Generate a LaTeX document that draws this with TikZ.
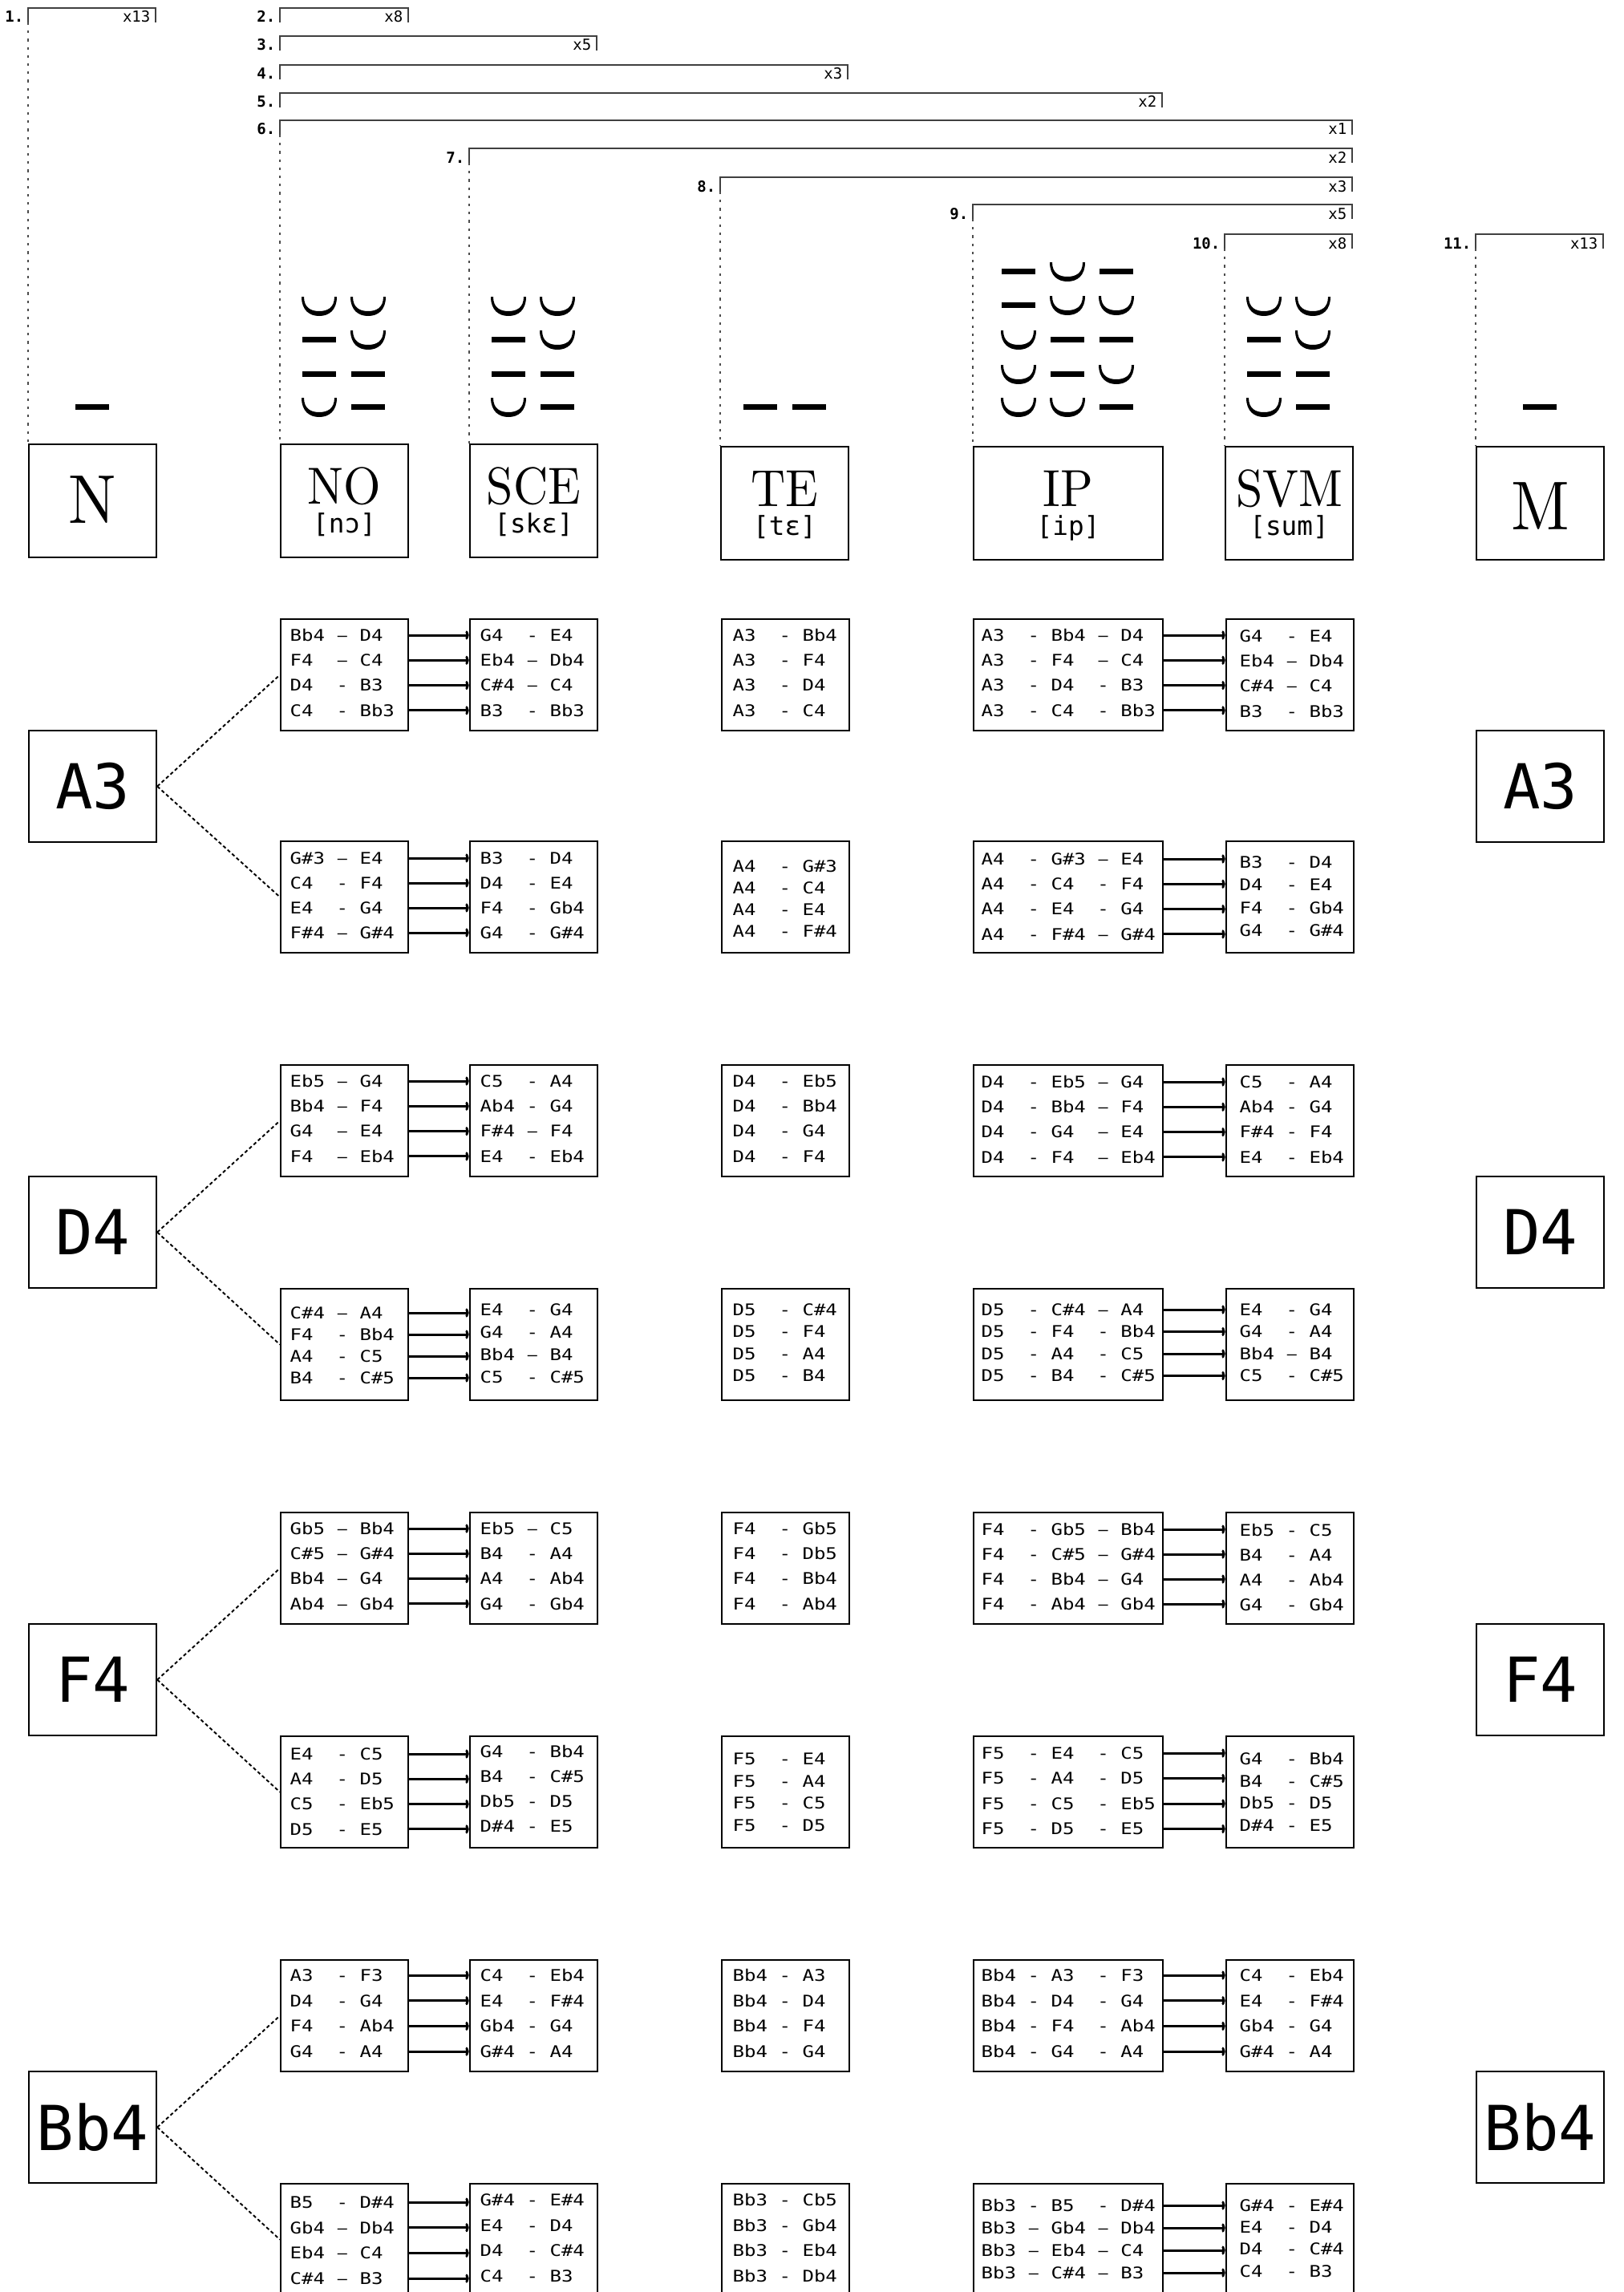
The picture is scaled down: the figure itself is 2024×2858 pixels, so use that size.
\documentclass[tikz,border=0pt]{standalone}
\usepackage{fontspec}
\usetikzlibrary{arrows.meta, calc}
\newfontfamily\notefont[FakeStretch=1.2]{DejaVu Sans Mono}
\newfontfamily\tagfont{DejaVu Sans Mono}
\newfontfamily\headfont[FakeStretch=0.92]{lmroman10-regular.otf}

% en dash kept on the grid of the note columns
\newcommand{\nd}{\makebox[\fontcharwd\font`\0][c]{\tagfont\fontsize{5.7pt}{6pt}\selectfont –}}
% bracket over the columns: name, x left, x right, y, number, count
\newcommand{\bracket}[6]{%
  \coordinate (#1) at (#2,#4+18);
  \draw[brk] (#1) |- (#3,#4) -- (#3,#4+18);
  \node[tag] (#1-n) at (#2-5,#4+18) {#5.};
  \node[cnt] (#1-x) at (#3-6,#4+18) {x#6};
}
% table of notes: style, name, corner, x inset, first row, row step, rows
\newcommand{\notetab}[7]{%
  \node[tblbox, #1] (#2) at #3 {};
  \foreach \nts [count=\k] in {#7}
    \node[notes] (#2-\k) at ($(#2.north west)+(#4,{#5+(\k-1)*#6})$) {\nts};
}
\newcommand{\links}[2]{%
  \foreach \k in {1,...,4}
    \draw[flow] (#1-\k -| #1.east) -- (#1-\k -| #2.west);
}
% one row of metrical marks
\newcommand{\feet}[3]{%
  \foreach \m [count=\k] in {#3}
    \pic at ({#1+61*(\k-1)},#2) {\m};
}

\begin{document}
\begin{tikzpicture}[
    x=0.1mm, y=-0.1mm,
    hdr/.style={draw, line width=0.6pt, minimum width=15.9mm, minimum height=14.1mm, anchor=north west, inner sep=0pt},
    wide/.style={minimum width=23.6mm},
    tblbox/.style={draw, line width=0.6pt, minimum width=15.9mm, minimum height=13.9mm, anchor=north west, inner sep=0pt},
    pitch/.style={draw, line width=0.6pt, minimum width=15.9mm, minimum height=13.9mm, anchor=north west, inner sep=0pt,
        font=\tagfont\fontsize{22pt}{24pt}\selectfont},
    notes/.style={anchor=west, inner sep=0pt, text height=4.16pt, text depth=0pt, font=\notefont\fontsize{5.7pt}{6pt}\selectfont},
    flow/.style={-{To[length=1.3pt, width=3.2pt]}, line width=0.85pt},
    brk/.style={line width=0.65pt, black!75},
    guide/.style={line width=0.45pt, black!70, dash pattern=on 0.9pt off 2pt},
    branch/.style={line width=0.55pt, dash pattern=on 1.2pt off 0.9pt},
    tag/.style={anchor=base east, inner sep=0pt, font=\tagfont\bfseries\fontsize{5.4pt}{6pt}\selectfont},
    cnt/.style={anchor=base east, inner sep=0pt, font=\tagfont\fontsize{5.4pt}{6pt}\selectfont},
    hname/.style={anchor=base, inner sep=0pt, font=\headfont\fontsize{18.5pt}{20pt}\selectfont},
    hbig/.style={anchor=base, inner sep=0pt, font=\headfont\fontsize{24.5pt}{26pt}\selectfont},
    ipa/.style={anchor=base, inner sep=0pt, font=\tagfont\fontsize{9.3pt}{10pt}\selectfont},
    lng/.pic={\fill (-21,-3.5) rectangle (21,3.5);},
    brv/.pic={\fill (-22,-11) .. controls (-22,6) and (-12,13) .. (0,13) .. controls (12,13) and (22,6) .. (22,-11)
        -- (19,-11) .. controls (19,3) and (10,7) .. (0,7) .. controls (-10,7) and (-19,3) .. (-19,-11) -- cycle;},
]
\useasboundingbox (0,0) rectangle (2024,2858);

% ---- brackets ----
\bracket{br1}{35}{194}{10}{1}{13}
\bracket{br2}{349}{509}{10}{2}{8}
\bracket{br3}{349}{744}{45}{3}{5}
\bracket{br4}{349}{1057}{81}{4}{3}
\bracket{br5}{349}{1449}{116}{5}{2}
\bracket{br6}{349}{1686}{150}{6}{1}
\bracket{br7}{585}{1686}{185}{7}{2}
\bracket{br8}{898}{1686}{221}{8}{3}
\bracket{br9}{1213}{1686}{255}{9}{5}
\bracket{br10}{1527}{1686}{292}{10}{8}
\bracket{br11}{1840}{1999}{292}{11}{13}

% ---- word boxes ----
\node[hdr] (hN) at (35,553) {};
\node[hdr] (hNO) at (349,553) {};
\node[hdr] (hSCE) at (585,553) {};
\node[hdr] (hTE) at (898,556) {};
\node[hdr, wide] (hIP) at (1213,556) {};
\node[hdr] (hSVM) at (1527,556) {};
\node[hdr] (hM) at (1840,556) {};
\node[hbig] (hN-t) at ($(hN.north)+(0,99)$) {N};
\node[hbig] (hM-t) at ($(hM.north)+(0,104)$) {M};
\node[hname] (hNO-t) at ($(hNO.north)+(0,75)$) {NO};
\node[ipa] (hNO-p) at ($(hNO.north)+(0,111)$) {[nɔ]};
\node[hname] (hSCE-t) at ($(hSCE.north)+(0,75)$) {SCE};
\node[ipa] (hSCE-p) at ($(hSCE.north)+(0,111)$) {[skɛ]};
\node[hname] (hTE-t) at ($(hTE.north)+(0,75)$) {TE};
\node[ipa] (hTE-p) at ($(hTE.north)+(0,111)$) {[tɛ]};
\node[hname] (hIP-t) at ($(hIP.north)+(0,75)$) {IP};
\node[ipa] (hIP-p) at ($(hIP.north)+(0,111)$) {[ip]};
\node[hname] (hSVM-t) at ($(hSVM.north)+(0,75)$) {SVM};
\node[ipa] (hSVM-p) at ($(hSVM.north)+(0,111)$) {[sum]};

\draw[guide] (br1) -- (br1 |- hN.north);
\draw[guide] (br6) -- (br6 |- hNO.north);
\draw[guide] (br7) -- (br7 |- hSCE.north);
\draw[guide] (br8) -- (br8 |- hTE.north);
\draw[guide] (br9) -- (br9 |- hIP.north);
\draw[guide] (br10) -- (br10 |- hSVM.north);
\draw[guide] (br11) -- (br11 |- hM.north);

% ---- metrical marks ----
\feet{114.5}{507}{lng}
\feet{398}{381}{brv,brv}
\feet{398}{423}{lng,brv}
\feet{398}{466}{lng,lng}
\feet{398}{507}{brv,lng}
\feet{634}{381}{brv,brv}
\feet{634}{423}{lng,brv}
\feet{634}{466}{lng,lng}
\feet{634}{507}{brv,lng}
\feet{947.5}{507}{lng,lng}
\feet{1270}{338}{lng,brv,lng}
\feet{1270}{380}{lng,brv,brv}
\feet{1270}{423}{brv,lng,lng}
\feet{1270}{466}{brv,lng,brv}
\feet{1270}{507}{brv,brv,lng}
\feet{1576}{381}{brv,brv}
\feet{1576}{423}{lng,brv}
\feet{1576}{466}{lng,lng}
\feet{1576}{507}{brv,lng}
\feet{1920}{507}{lng}

% ---- A3 ----
\node[pitch] (a3L) at (35,910) {A3};
\node[pitch] (a3R) at (1840,910) {A3};
\notetab{}{a1no}{(349,771)}{12}{21}{31.3}{Bb4 \nd{} D4, F4~ \nd{} C4, D4~ - B3, C4~ - Bb3}
\notetab{}{a1sce}{(585,771)}{13}{21}{31.3}{G4~ - E4, Eb4 \nd{} Db4, C\#4 \nd{} C4, B3~ - Bb3}
\notetab{}{a1te}{(899,771)}{14}{21}{31.3}{A3~ - Bb4, A3~ - F4, A3~ - D4, A3~ - C4}
\notetab{wide}{a1ip}{(1213,771)}{10}{21}{31.3}{A3~ - Bb4 \nd{} D4, A3~ - F4~ \nd{} C4, A3~ - D4~ - B3, A3~ - C4~ - Bb3}
\notetab{}{a1svm}{(1528,771)}{17}{22}{31.3}{G4~ - E4, Eb4 \nd{} Db4, C\#4 \nd{} C4, B3~ - Bb3}
\notetab{}{a2no}{(349,1048)}{12}{22}{31}{G\#3 \nd{} E4, C4~ - F4, E4~ - G4, F\#4 \nd{} G\#4}
\notetab{}{a2sce}{(585,1048)}{13}{22}{31}{B3~ - D4, D4~ - E4, F4~ - Gb4, G4~ - G\#4}
\notetab{}{a2te}{(899,1048)}{14}{32}{27}{A4~ - G\#3, A4~ - C4, A4~ - E4, A4~ - F\#4}
\notetab{wide}{a2ip}{(1213,1048)}{10}{23}{31.3}{A4~ - G\#3 \nd{} E4, A4~ - C4~ - F4, A4~ - E4~ - G4, A4~ - F\#4 \nd{} G\#4}
\notetab{}{a2svm}{(1528,1048)}{17}{27}{28.5}{B3~ - D4, D4~ - E4, F4~ - Gb4, G4~ - G\#4}
\draw[branch] (a3L.east) -- (a1no.west);
\draw[branch] (a3L.east) -- (a2no.west);
\links{a1no}{a1sce} \links{a1ip}{a1svm}
\links{a2no}{a2sce} \links{a2ip}{a2svm}

% ---- D4 ----
\node[pitch] (d4L) at (35,1466) {D4};
\node[pitch] (d4R) at (1840,1466) {D4};
\notetab{}{d1no}{(349,1327)}{12}{21}{31.3}{Eb5 \nd{} G4, Bb4 \nd{} F4, G4~ \nd{} E4, F4~ \nd{} Eb4}
\notetab{}{d1sce}{(585,1327)}{13}{21}{31.3}{C5~ - A4, Ab4 - G4, F\#4 \nd{} F4, E4~ - Eb4}
\notetab{}{d1te}{(899,1327)}{14}{21}{31.3}{D4~ - Eb5, D4~ - Bb4, D4~ - G4, D4~ - F4}
\notetab{wide}{d1ip}{(1213,1327)}{10}{22}{31.3}{D4~ - Eb5 \nd{} G4, D4~ - Bb4 \nd{} F4, D4~ - G4~ \nd{} E4, D4~ - F4~ \nd{} Eb4}
\notetab{}{d1svm}{(1528,1327)}{17}{22}{31.3}{C5~ - A4, Ab4 - G4, F\#4 - F4, E4~ - Eb4}
\notetab{}{d2no}{(349,1606)}{12}{31}{27}{C\#4 \nd{} A4, F4~ - Bb4, A4~ - C5, B4~ - C\#5}
\notetab{}{d2sce}{(585,1606)}{13}{27}{28}{E4~ - G4, G4~ - A4, Bb4 \nd{} B4, C5~ - C\#5}
\notetab{}{d2te}{(899,1606)}{14}{27}{27.5}{D5~ - C\#4, D5~ - F4, D5~ - A4, D5~ - B4}
\notetab{wide}{d2ip}{(1213,1606)}{10}{27}{27.5}{D5~ - C\#4 \nd{} A4, D5~ - F4~ - Bb4, D5~ - A4~ - C5, D5~ - B4~ - C\#5}
\notetab{}{d2svm}{(1528,1606)}{17}{27}{27.5}{E4~ - G4, G4~ - A4, Bb4 \nd{} B4, C5~ - C\#5}
\draw[branch] (d4L.east) -- (d1no.west);
\draw[branch] (d4L.east) -- (d2no.west);
\links{d1no}{d1sce} \links{d1ip}{d1svm}
\links{d2no}{d2sce} \links{d2ip}{d2svm}

% ---- F4 ----
\node[pitch] (f4L) at (35,2024) {F4};
\node[pitch] (f4R) at (1840,2024) {F4};
\notetab{}{f1no}{(349,1885)}{12}{21}{31.3}{Gb5 \nd{} Bb4, C\#5 \nd{} G\#4, Bb4 \nd{} G4, Ab4 \nd{} Gb4}
\notetab{}{f1sce}{(585,1885)}{13}{21}{31.3}{Eb5 \nd{} C5, B4~ - A4, A4~ - Ab4, G4~ - Gb4}
\notetab{}{f1te}{(899,1885)}{14}{21}{31.3}{F4~ - Gb5, F4~ - Db5, F4~ - Bb4, F4~ - Ab4}
\notetab{wide}{f1ip}{(1213,1885)}{10}{22}{31}{F4~ - Gb5 \nd{} Bb4, F4~ - C\#5 \nd{} G\#4, F4~ - Bb4 \nd{} G4, F4~ - Ab4 \nd{} Gb4}
\notetab{}{f1svm}{(1528,1885)}{17}{23}{31}{Eb5 - C5, B4~ - A4, A4~ - Ab4, G4~ - Gb4}
\notetab{}{f2no}{(349,2164)}{12}{23}{31.3}{E4~ - C5, A4~ - D5, C5~ - Eb5, D5~ - E5}
\notetab{}{f2sce}{(585,2164)}{13}{20}{31}{G4~ - Bb4, B4~ - C\#5, Db5 - D5, D\#4 - E5}
\notetab{}{f2te}{(899,2164)}{14}{29}{27.7}{F5~ - E4, F5~ - A4, F5~ - C5, F5~ - D5}
\notetab{wide}{f2ip}{(1213,2164)}{10}{22}{31.5}{F5~ - E4~ - C5, F5~ - A4~ - D5, F5~ - C5~ - Eb5, F5~ - D5~ - E5}
\notetab{}{f2svm}{(1528,2164)}{17}{29}{27.7}{G4~ - Bb4, B4~ - C\#5, Db5 - D5, D\#4 - E5}
\draw[branch] (f4L.east) -- (f1no.west);
\draw[branch] (f4L.east) -- (f2no.west);
\links{f1no}{f1sce} \links{f1ip}{f1svm}
\links{f2no}{f2sce} \links{f2ip}{f2svm}

% ---- Bb4 ----
\node[pitch] (b4L) at (35,2582) {Bb4};
\node[pitch] (b4R) at (1840,2582) {Bb4};
\notetab{}{b1no}{(349,2443)}{12}{20}{31.7}{A3~ - F3, D4~ - G4, F4~ - Ab4, G4~ - A4}
\notetab{}{b1sce}{(585,2443)}{13}{20}{31.7}{C4~ - Eb4, E4~ - F\#4, Gb4 - G4, G\#4 - A4}
\notetab{}{b1te}{(899,2443)}{14}{20}{31.7}{Bb4 - A3, Bb4 - D4, Bb4 - F4, Bb4 - G4}
\notetab{wide}{b1ip}{(1213,2443)}{10}{20}{31.7}{Bb4 - A3~ - F3, Bb4 - D4~ - G4, Bb4 - F4~ - Ab4, Bb4 - G4~ - A4}
\notetab{}{b1svm}{(1528,2443)}{17}{20}{31.7}{C4~ - Eb4, E4~ - F\#4, Gb4 - G4, G\#4 - A4}
\notetab{}{b2no}{(349,2722)}{12}{24}{31.7}{B5~ - D\#4, Gb4 \nd{} Db4, Eb4 \nd{} C4, C\#4 \nd{} B3}
\notetab{}{b2sce}{(585,2722)}{13}{21}{31.7}{G\#4 - E\#4, E4~ - D4, D4~ - C\#4, C4~ - B3}
\notetab{}{b2te}{(899,2722)}{14}{21}{31.7}{Bb3 - Cb5, Bb3 - Gb4, Bb3 - Eb4, Bb3 - Db4}
\notetab{wide}{b2ip}{(1213,2722)}{10}{28}{28}{Bb3 - B5~ - D\#4, Bb3 \nd{} Gb4 \nd{} Db4, Bb3 \nd{} Eb4 \nd{} C4, Bb3 \nd{} C\#4 \nd{} B3}
\notetab{}{b2svm}{(1528,2722)}{17}{28}{27.3}{G\#4 - E\#4, E4~ - D4, D4~ - C\#4, C4~ - B3}
\draw[branch] (b4L.east) -- (b1no.west);
\draw[branch] (b4L.east) -- (b2no.west);
\links{b1no}{b1sce} \links{b1ip}{b1svm}
\links{b2no}{b2sce} \links{b2ip}{b2svm}

\end{tikzpicture}
\end{document}
